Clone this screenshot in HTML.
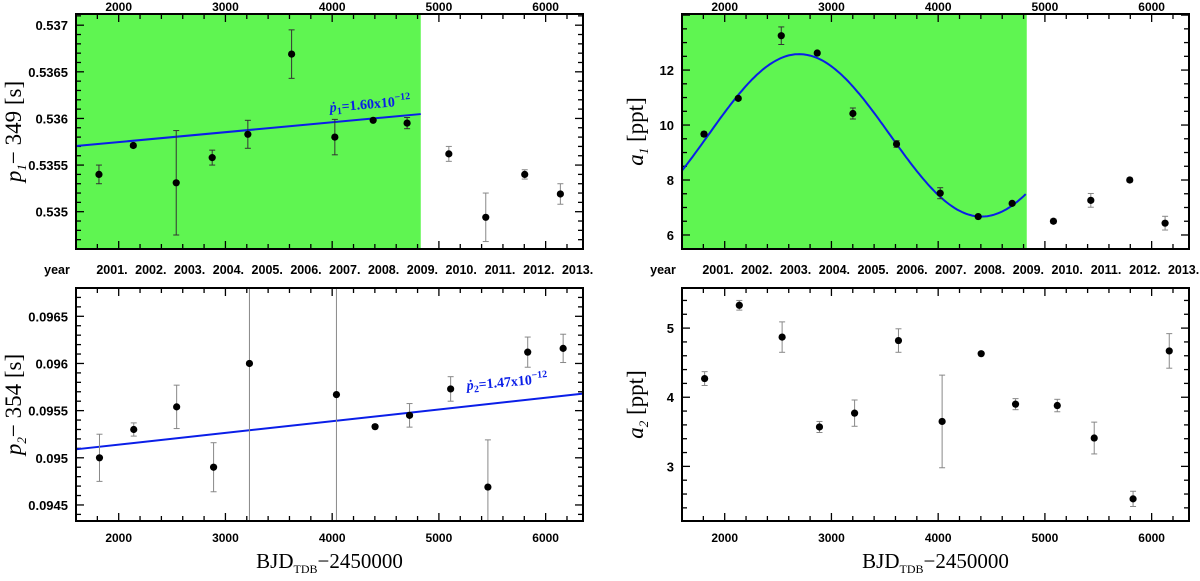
<!DOCTYPE html>
<html><head><meta charset="utf-8">
<style>
html,body{margin:0;padding:0;background:#fff;overflow:hidden;width:1200px;height:581px;}
svg{display:block;}
text{font-family:"Liberation Sans",sans-serif;}
</style></head>
<body>
<svg id="fig" width="1200" height="581" viewBox="0 0 1200 581" xmlns="http://www.w3.org/2000/svg"></svg>
<script>
// ---- data ----
const p1X   = [1815,2137,2539,2876,3210,3620,4025,4384,4702,5093,5439,5804,6138];
const p1Y   = [0.53540,0.53571,0.53531,0.53558,0.53583,0.53669,0.53580,0.53598,0.53595,0.53562,0.53494,0.53540,0.53519];
const p1Err = [0.00010,0.00002,0.00056,0.00008,0.00015,0.00026,0.00019,0.00001,0.00006,0.00008,0.00026,0.00005,0.00011];
const p1Fit = [0.535704,0.536047];
const fitX  = [1600,4830];

const a1X   = [1806,2127,2530,2867,3201,3610,4019,4375,4693,5080,5430,5795,6126];
const a1Y   = [9.67,10.97,13.25,12.62,10.42,9.31,7.52,6.67,7.15,6.50,7.26,8.00,6.43];
const a1Err = [0.08,0.06,0.32,0.05,0.20,0.12,0.20,0.04,0.05,0.08,0.25,0.08,0.25];
const a1Sine = [9.625,2.955,3416,2698]; // mean, amplitude, period, peak time

const p2X   = [1820,2141,2543,2889,3225,4040,4402,4725,5110,5459,5832,6164];
const p2Y   = [0.09500,0.09530,0.09554,0.09490,0.09600,0.09567,0.09533,0.09545,0.09573,0.09469,0.09612,0.09616];
const p2Err = [0.00025,0.00007,0.00023,0.00026,0.01,0.01,0.00002,0.000125,0.00013,0.0005,0.00016,0.00015];
const p2Fit = [0.09509,0.09568];
const p2FitX = [1600,6350];

const a2X   = [1812,2137,2538,2888,3217,3628,4037,4403,4725,5116,5462,5826,6165];
const a2Y   = [4.27,5.33,4.87,3.57,3.77,4.82,3.65,4.63,3.90,3.88,3.41,2.53,4.67];
const a2Err = [0.10,0.07,0.22,0.08,0.19,0.17,0.67,0.02,0.08,0.09,0.23,0.11,0.25];

const xMajor = [2000,3000,4000,5000,6000];
const years  = ["2001.","2002.","2003.","2004.","2005.","2006.","2007.","2008.","2009.","2010.","2011.","2012.","2013."];

const NS="http://www.w3.org/2000/svg";
const svg=document.getElementById('fig');
function mk(tag,attrs,parent){const e=document.createElementNS(NS,tag);for(const k in attrs)e.setAttribute(k,attrs[k]);(parent||svg).appendChild(e);return e;}

function panel(cfg){
  const g=mk('g',{});
  
  
  const L=cfg.l,R=cfg.r,T=cfg.t,B=cfg.b;
  const sx=v=>L+(v-1600)/(6350-1600)*(R-L);
  const sy=v=>B-(v-cfg.ymin)/(cfg.ymax-cfg.ymin)*(B-T);
  if(cfg.green){
    const r=mk('rect',{x:L,y:T,width:sx(cfg.green)-L,height:B-T,fill:'#5ff551'},g);
    
    
  }
  for(let v=1600;v<=6350;v+=200){
    const major=v%1000===0, len=major?8:5, x=sx(v);
    mk('line',{x1:x,y1:B,x2:x,y2:B-len,stroke:'#000','stroke-width':1.3},g);
    mk('line',{x1:x,y1:T,x2:x,y2:T+len,stroke:'#000','stroke-width':1.3},g);
  }
  const n=Math.round((cfg.ymax-cfg.ymin)/cfg.minor)+2;
  const start=Math.ceil(cfg.ymin/cfg.minor-1e-6);
  for(let i=0;i<n;i++){
    const v=(start+i)*cfg.minor; if(v>cfg.ymax)break;
    const k=Math.round(v/cfg.minor), major=Math.abs(k/cfg.ratio-Math.round(k/cfg.ratio))<1e-6;
    const len=major?8:5,y=sy(v);
    mk('line',{x1:L,y1:y,x2:L+len,y2:y,stroke:'#000','stroke-width':1.3},g);
    mk('line',{x1:R,y1:y,x2:R-len,y2:y,stroke:'#000','stroke-width':1.3},g);
  }
  cfg.yticks.forEach((v,i)=>{
    const t=mk('text',{x:L-8,y:sy(v)+5,'text-anchor':'end','font-size':13,'font-weight':'bold'},g);
    t.textContent=cfg.ylabels[i];
    
    
  });
  if(cfg.fit){
    const l=mk('line',{x1:sx(cfg.fitX[0]),y1:sy(cfg.fit[0]),x2:sx(cfg.fitX[1]),y2:sy(cfg.fit[1]),stroke:'#0a1ee8','stroke-width':2},g);
    
    
  }
  if(cfg.sine){
    let d='';
    for(let v=1600;v<=4830;v+=20){
      const y=cfg.sine[0]+cfg.sine[1]*Math.cos(2*Math.PI*(v-cfg.sine[3])/cfg.sine[2]);
      d+=(d?'L':'M')+sx(v).toFixed(1)+','+sy(y).toFixed(1);
    }
    const p=mk('path',{d:d,fill:'none',stroke:'#0a1ee8','stroke-width':2},g);
    
    
  }
  const cp='clip'+cfg.name;
  const cl=mk('clipPath',{id:cp},g); mk('rect',{x:L,y:T,width:R-L,height:B-T},cl);
  cfg.xs.forEach((xv,i)=>{
    const x=sx(xv),y=sy(cfg.ys[i]),e1=sy(cfg.ys[i]+cfg.es[i]),e2=sy(cfg.ys[i]-cfg.es[i]);
    const eg=mk('g',{'clip-path':'url(#'+cp+')'},g);
    
    
    const col=cfg.green&&xv<cfg.green?'#333':'#888';
    mk('line',{x1:x,y1:e1,x2:x,y2:e2,stroke:col,'stroke-width':1},eg);
    mk('line',{x1:x-3,y1:e1,x2:x+3,y2:e1,stroke:col,'stroke-width':1},eg);
    mk('line',{x1:x-3,y1:e2,x2:x+3,y2:e2,stroke:col,'stroke-width':1},eg);
    const c=mk('circle',{cx:x,cy:y,r:3.6,fill:'#000'},g);
    
    
  });
  mk('rect',{x:L,y:T,width:R-L,height:B-T,fill:'none',stroke:'#000','stroke-width':2},g);
  if(cfg.top){
    xMajor.forEach(v=>{const t=mk('text',{x:sx(v),y:T-3,'text-anchor':'middle','font-size':12,'font-weight':'bold'},g);t.textContent=v;
      
      });
    years.forEach((s,i)=>{const t=mk('text',{x:L+36+i*38.8,y:B+25,'text-anchor':'middle','font-size':12.5,'font-weight':'bold'},g);t.textContent=s;
      
      });
    const yw=mk('text',{x:L-19,y:B+25,'text-anchor':'middle','font-size':12.5,'font-weight':'bold'},g);yw.textContent='year';
    
    
  } else {
    xMajor.forEach(v=>{const t=mk('text',{x:sx(v),y:B+21,'text-anchor':'middle','font-size':12,'font-weight':'bold'},g);t.textContent=v;
      
      });
    const xt=mk('text',{x:(L+R)/2,y:B+47,'text-anchor':'middle','font-size':21,style:'font-family:"Liberation Serif",serif'},g);
    xt.innerHTML='BJD<tspan font-size="12" dy="5">TDB</tspan><tspan dy="-5">−2450000</tspan>';
    
    
  }
  const yt=mk('text',{x:0,y:0,'text-anchor':'middle','font-size':23,transform:`translate(${cfg.ytx},${(T+B)/2}) rotate(-90)`,style:'font-family:"Liberation Serif",serif'},g);
  yt.innerHTML=cfg.ytitle;
  
  
  if(cfg.ann){
    const a=mk('text',{x:0,y:0,'font-size':14,'font-weight':'bold',fill:'#0a1ee8',transform:`translate(${cfg.ann[0]},${cfg.ann[1]}) rotate(-5)`,style:'font-family:"Liberation Serif",serif'},g);
    a.innerHTML=cfg.ann[2];
    
    
  }
}

panel({name:'p1-panel',l:76,r:583,t:14,b:249,ymin:0.53460,ymax:0.53712,minor:0.0001,ratio:5,
  yticks:[0.535,0.5355,0.536,0.5365,0.537],ylabels:['0.535','0.5355','0.536','0.5365','0.537'],
  green:4830,fit:p1Fit,fitX:fitX,xs:p1X,ys:p1Y,es:p1Err,top:true,ytx:21,
  ytitle:'<tspan font-style="italic">p</tspan><tspan font-size="13" dy="5" font-style="italic">1</tspan><tspan dy="-5">− 349  [s]</tspan>',
  ann:[330,112,'<tspan font-style="italic">ṗ</tspan><tspan font-size="10" dy="3">1</tspan><tspan dy="-3">=1.60x10</tspan><tspan font-size="10" dy="-6">−12</tspan>']});
panel({name:'a1-panel',l:682,r:1189,t:14,b:249,ymin:5.49,ymax:14.04,minor:0.5,ratio:4,
  yticks:[6,8,10,12],ylabels:['6','8','10','12'],
  green:4830,sine:a1Sine,xs:a1X,ys:a1Y,es:a1Err,top:true,ytx:643,
  ytitle:'<tspan font-style="italic">a</tspan><tspan font-size="13" dy="5" font-style="italic">1</tspan><tspan dy="-5">  [ppt]</tspan>'});
panel({name:'p2-panel',l:76,r:583,t:288,b:521,ymin:0.09433,ymax:0.09680,minor:0.0001,ratio:5,
  yticks:[0.0945,0.095,0.0955,0.096,0.0965],ylabels:['0.0945','0.095','0.0955','0.096','0.0965'],
  fit:p2Fit,fitX:p2FitX,xs:p2X,ys:p2Y,es:p2Err,top:false,ytx:21,
  ytitle:'<tspan font-style="italic">p</tspan><tspan font-size="13" dy="5" font-style="italic">2</tspan><tspan dy="-5">− 354  [s]</tspan>',
  ann:[467,390,'<tspan font-style="italic">ṗ</tspan><tspan font-size="10" dy="3">2</tspan><tspan dy="-3">=1.47x10</tspan><tspan font-size="10" dy="-6">−12</tspan>']});
panel({name:'a2-panel',l:682,r:1189,t:288,b:521,ymin:2.21,ymax:5.58,minor:0.2,ratio:5,
  yticks:[3,4,5],ylabels:['3','4','5'],
  xs:a2X,ys:a2Y,es:a2Err,top:false,ytx:643,
  ytitle:'<tspan font-style="italic">a</tspan><tspan font-size="13" dy="5" font-style="italic">2</tspan><tspan dy="-5">  [ppt]</tspan>'});
</script>
</body></html>
